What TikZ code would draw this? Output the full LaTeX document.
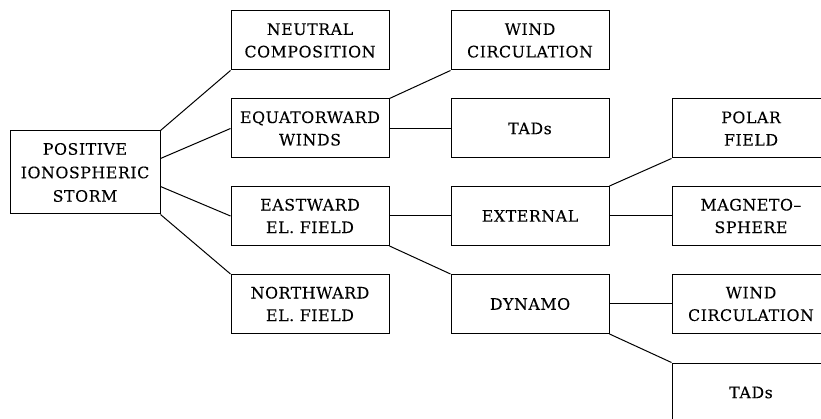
\documentclass[tikz,border=0pt]{standalone}
\usepackage{fontspec}
\newfontfamily\boxfont{DejaVu Serif}[LetterSpace=3.5, FakeBold=0.15]
\usetikzlibrary{calc}
\begin{document}
\begin{tikzpicture}[x=1pt,y=-1pt,
  box/.style={draw, line width=1pt, rectangle, inner sep=0pt,
    minimum width=158pt, minimum height=59pt, align=center,
    font=\boxfont\fontsize{15.8}{22.5}\selectfont},
  link/.style={line width=1pt}]
\path[use as bounding box, clip] (0,0) rectangle (821,419);

% root
\node[box, minimum width=150pt, minimum height=83pt,
      font=\boxfont\fontsize{15.8}{23.5}\selectfont] (storm) at (85,172.5)
  {POSITIVE\\IONOSPHERIC\\STORM};

% first level
\node[box] (neutral) at (310,40.5) {NEUTRAL\\COMPOSITION};
\node[box] (equat)   at (310,128.5) {EQUATORWARD\\WINDS};
\node[box] (east)    at (310,216) {EASTWARD\\EL. FIELD};
\node[box] (north)   at (310,304) {NORTHWARD\\EL. FIELD};

% second level
\node[box] (wind1)  at (530,40.5) {WIND\\CIRCULATION};
\node[box] (tads1)  at (530,128.5) {TADs};
\node[box] (extern) at (530,216) {EXTERNAL};
\node[box] (dynamo) at (530,304) {DYNAMO};

% third level (runs past the right edge and is cut off there)
\node[box] (polar)  at (751,128.5) {POLAR\\FIELD};
\node[box] (magneto) at (751,216) {MAGNETO–\\SPHERE};
\node[box] (wind2)  at (751,304) {WIND\\CIRCULATION};
\node[box] (tads2)  at (751,392.5) {TADs};

% connectors
\draw[link] (storm.north east) -- (neutral.south west);
\draw[link] ($(storm.north east)!1/3!(storm.south east)$) -- (equat.west);
\draw[link] ($(storm.north east)!2/3!(storm.south east)$) -- (east.west);
\draw[link] (storm.south east) -- (north.north west);

\draw[link] (equat.north east) -- (wind1.south west);
\draw[link] (equat.east) -- (tads1.west);
\draw[link] (east.east) -- (extern.west);
\draw[link] (east.south east) -- (dynamo.north west);

\draw[link] (extern.north east) -- (polar.south west);
\draw[link] (extern.east) -- (magneto.west);
\draw[link] (dynamo.east) -- (wind2.west);
\draw[link] (dynamo.south east) -- (tads2.north west);
\end{tikzpicture}
\end{document}
